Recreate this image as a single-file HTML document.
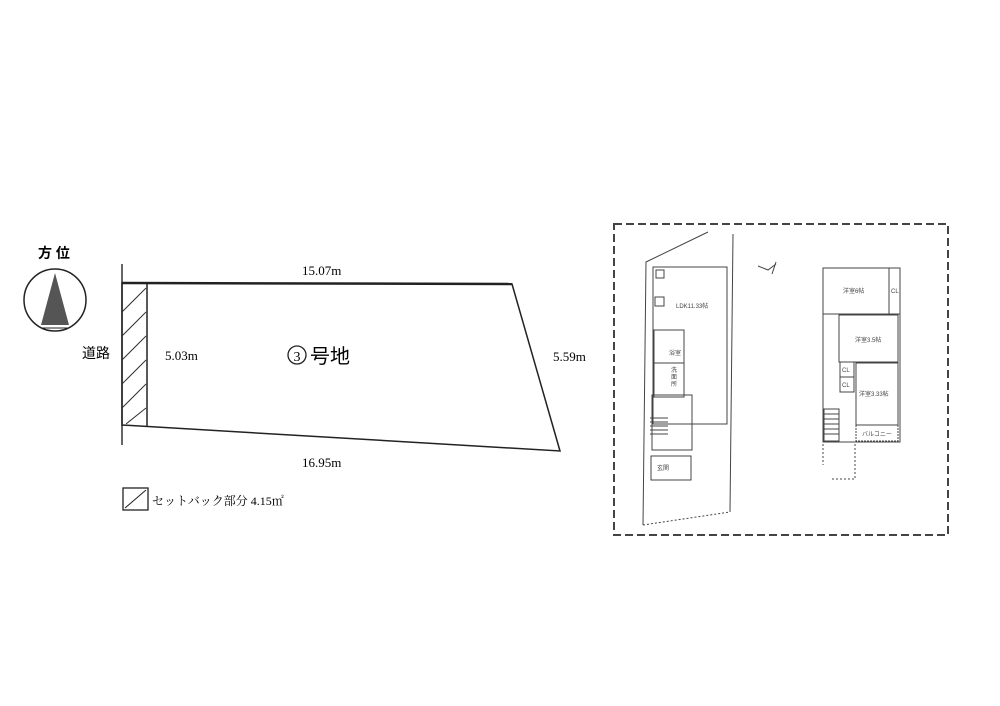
<!DOCTYPE html>
<html><head><meta charset="utf-8"><style>
html,body{margin:0;padding:0;background:#fff;}
svg{display:block;font-family:"Liberation Serif","Noto Serif CJK SC",serif;}
</style></head><body>
<svg width="1000" height="706" viewBox="0 0 1000 706" xmlns="http://www.w3.org/2000/svg">
<rect width="1000" height="706" fill="#fff"/>
<!-- compass -->
<text x="38" y="258" font-size="14" font-family="Liberation Sans,Noto Sans CJK JP,sans-serif" font-weight="bold">方 位</text>
<circle cx="55" cy="300" r="31" fill="none" stroke="#222" stroke-width="1.5"/>
<polygon points="55,273 41,325 69,325" fill="#555"/>
<line x1="41" y1="328" x2="69" y2="328" stroke="#222"/>
<!-- road -->
<line x1="122" y1="264" x2="122" y2="445" stroke="#333" stroke-width="1.5"/>
<text x="82" y="358" font-size="14" font-family="Liberation Sans,Noto Sans CJK JP,sans-serif">道路</text>
<!-- lot -->
<polygon points="122,283 512,284 560,451 122,425" fill="none" stroke="#222" stroke-width="1.5"/>
<line x1="122" y1="283" x2="512" y2="284" stroke="#222" stroke-width="2.5"/>
<line x1="147" y1="283" x2="147" y2="426" stroke="#222" stroke-width="1.5"/>
<g stroke="#333" stroke-width="1">
<line x1="122" y1="312" x2="146" y2="288"/>
<line x1="122" y1="336" x2="146" y2="312"/>
<line x1="122" y1="360" x2="146" y2="336"/>
<line x1="122" y1="384" x2="146" y2="360"/>
<line x1="122" y1="408" x2="146" y2="384"/>
<line x1="126" y1="424" x2="146" y2="408"/>
</g>
<text x="302" y="275" font-size="13">15.07m</text>
<text x="165" y="360" font-size="13">5.03m</text>
<circle cx="297" cy="355" r="9" fill="none" stroke="#222" stroke-width="1.3"/>
<text x="297" y="361" font-size="14" text-anchor="middle">3</text>
<text x="310" y="363" font-size="20" font-family="Liberation Sans,Noto Sans CJK JP,sans-serif">号地</text>
<text x="553" y="361" font-size="13">5.59m</text>
<text x="302" y="467" font-size="13">16.95m</text>
<!-- legend -->
<rect x="123" y="488" width="25" height="22" fill="none" stroke="#222" stroke-width="1.3"/>
<line x1="125" y1="508" x2="146" y2="490" stroke="#222"/>
<text x="152" y="505" font-size="12" font-family="Liberation Serif,Noto Serif CJK JP,serif">セットバック部分 4.15㎡</text>
<!-- right dashed box -->
<rect x="614" y="224" width="334" height="311" fill="none" stroke="#444" stroke-width="2" stroke-dasharray="8,4"/>
<!-- first floor site -->
<g fill="none" stroke="#444" stroke-width="1">
<polyline points="708,232 646,262 643,525"/>
<line x1="733" y1="234" x2="730" y2="512"/>
<polyline points="643,525 730,512" stroke-dasharray="2,2"/>
<rect x="653" y="267" width="74" height="157"/>
<rect x="654" y="330" width="30" height="33"/>
<rect x="654" y="363" width="30" height="34"/>
<rect x="652" y="395" width="40" height="55"/>
<rect x="651" y="456" width="40" height="24"/>
<rect x="656" y="270" width="8" height="8"/>
<rect x="655" y="297" width="9" height="9"/>
<line x1="650" y1="418" x2="668" y2="418"/>
<line x1="650" y1="422" x2="668" y2="422"/>
<line x1="650" y1="426" x2="668" y2="426"/>
<line x1="650" y1="430" x2="668" y2="430"/>
<line x1="650" y1="434" x2="668" y2="434"/>
</g>
<g font-size="6" font-family="Liberation Sans,Noto Sans CJK JP,sans-serif" fill="#444">
<text x="676" y="308">LDK11.33帖</text>
<text x="669" y="355">浴室</text>
<text x="671" y="372">洗</text><text x="671" y="379">面</text><text x="671" y="386">所</text>
<text x="657" y="470">玄関</text>
</g>
<!-- second floor -->
<g fill="none" stroke="#444" stroke-width="1">
<path d="M758,266 l10,4 l8,-6 M776,262 l-4,12"/>
<rect x="823" y="268" width="77" height="174"/>
<line x1="823" y1="314" x2="900" y2="314"/>
<line x1="889" y1="268" x2="889" y2="314"/>
<rect x="839" y="315" width="59" height="47"/>
<rect x="840" y="362" width="14" height="15"/>
<rect x="840" y="377" width="14" height="15"/>
<rect x="856" y="363" width="42" height="62"/>
<rect x="856" y="425" width="42" height="16" stroke-dasharray="2,1"/>
<rect x="824" y="409" width="15" height="32"/>
<line x1="824" y1="414" x2="839" y2="414"/><line x1="824" y1="419" x2="839" y2="419"/>
<line x1="824" y1="424" x2="839" y2="424"/><line x1="824" y1="429" x2="839" y2="429"/>
<line x1="824" y1="434" x2="839" y2="434"/>
<polyline points="823,444 823,465" stroke-dasharray="2,2"/>
<polyline points="855,444 855,479 832,479" stroke-dasharray="2,2"/>
</g>
<g font-size="6" font-family="Liberation Sans,Noto Sans CJK JP,sans-serif" fill="#444">
<text x="843" y="293">洋室6帖</text>
<text x="891" y="293">CL</text>
<text x="855" y="342">洋室3.5帖</text>
<text x="842" y="372">CL</text>
<text x="842" y="387">CL</text>
<text x="859" y="396">洋室3.33帖</text>
<text x="862" y="436">バルコニー</text>
</g>
</svg>
</body></html>
